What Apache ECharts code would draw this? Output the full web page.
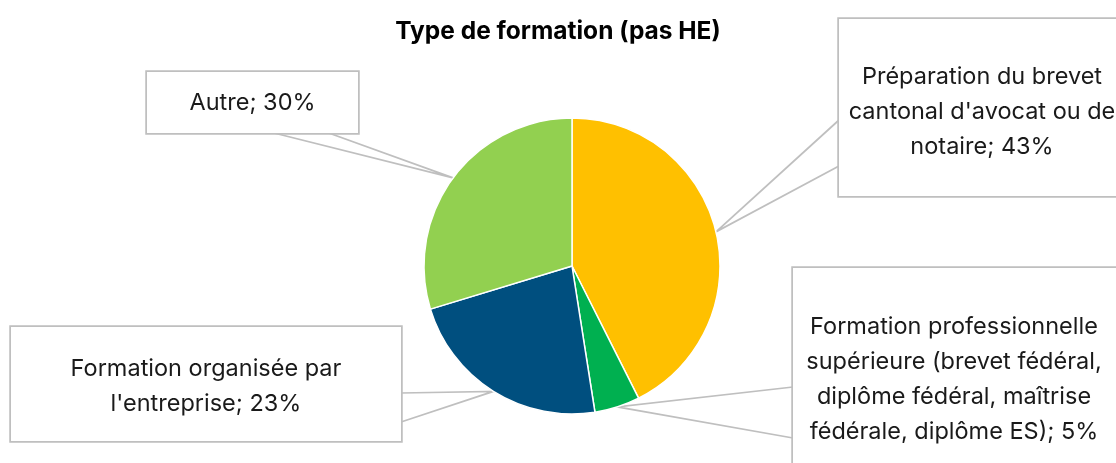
<!DOCTYPE html>
<html><head><meta charset="utf-8">
<script src="https://cdn.jsdelivr.net/npm/echarts@6/dist/echarts.min.js"></script>
<style>html,body{margin:0;padding:0;background:#fff}#c{width:1116px;height:463px}</style>
</head><body><div id="c"></div>
<script>
const chartTitle = 'Type de formation (pas HE)';
const categories = [
  "Préparation du brevet\ncantonal d'avocat ou de\nnotaire",
  "Formation professionnelle\nsupérieure (brevet fédéral,\ndiplôme fédéral, maîtrise\nfédérale, diplôme ES)",
  "Formation organisée par\nl'entreprise",
  "Autre"
];
const values = [43, 5, 23, 30];
const colors = ['#FFC000', '#00B050', '#004F7F', '#92D050'];

// callout boxes (layout only): left, top, box width, padding [t,r,b,l], wedge base points relative to box
const boxes = [
  { x: 839, y: 19, w: 286, pad: [40, 10, 32, 10], wedge: [[0, 101], [0, 147]] },
  { x: 793, y: 268, w: 332, pad: [41, 20, 40, 10], wedge: [[0, 119], [0, 170]] },
  { x: 11, y: 327, w: 390, pad: [24, 10, 20, 10], wedge: [[390, 66], [390, 95]] },
  { x: 147, y: 72, w: 211, pad: [13, 10, 13, 10], wedge: [[123, 60], [179, 60]] }
];
const FONT = 'Inter';
const FS = 23.5;
const LH = 35;

const chart = echarts.init(document.getElementById('c'), null, { renderer: 'canvas' });
const data = categories.map((name, i) => ({
  name: name,
  value: values[i],
  itemStyle: { color: colors[i] },
  label: { width: boxes[i].w - boxes[i].pad[1] - boxes[i].pad[3], padding: boxes[i].pad }
}));

chart.setOption({
  backgroundColor: '#fff',
  animation: false,
  title: {
    text: chartTitle, left: 'center', top: 14,
    textStyle: { fontFamily: FONT, fontWeight: 'bold', fontSize: 24.5, color: '#000' }
  },
  series: [{
    type: 'pie',
    center: [572, 266],
    radius: 148,
    startAngle: 90,
    clockwise: true,
    avoidLabelOverlap: false,
    itemStyle: { borderColor: '#fff', borderWidth: 1.5 },
    label: {
      show: true, position: 'outside',
      formatter: p => p.name + '; ' + p.value + '%',
      fontFamily: FONT, fontSize: FS, lineHeight: LH, color: '#1a1a1a',
      align: 'center', overflow: 'none',
      backgroundColor: '#fff', borderColor: '#BFBFBF', borderWidth: 1.75
    },
    labelLine: { show: true, length: 10, length2: 10, smooth: false, lineStyle: { color: '#BFBFBF', width: 1.75 } },
    labelLayout: function (params) {
      const b = boxes[params.dataIndex];
      const tip = params.labelLinePoints ? params.labelLinePoints[0] : [0, 0];
      return {
        x: b.x + b.w / 2, y: b.y, align: 'center', verticalAlign: 'top',
        labelLinePoints: [[b.x + b.wedge[0][0], b.y + b.wedge[0][1]], tip, [b.x + b.wedge[1][0], b.y + b.wedge[1][1]]]
      };
    },
    data: data
  }]
});
</script></body></html>
